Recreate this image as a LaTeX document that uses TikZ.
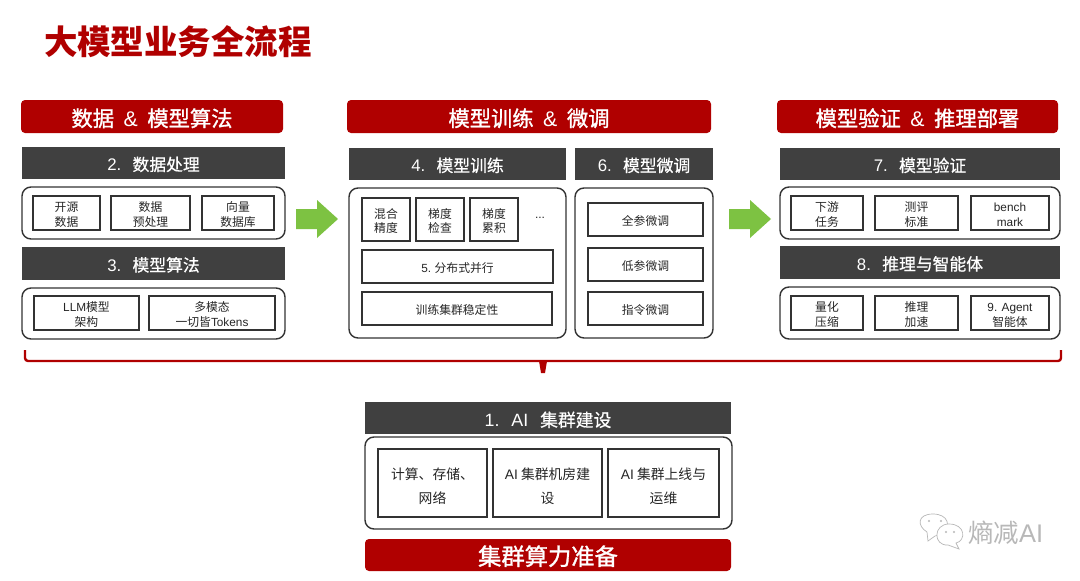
\documentclass[tikz,border=0pt]{standalone}
\usepackage{fontspec}
\setmainfont{Noto Sans CJK SC}
\newfontfamily\latfont{Liberation Sans}
\newfontfamily\medfont[FakeBold=1.3]{Noto Sans CJK SC}
\newfontfamily\semifont[FakeBold=0.6]{Noto Sans CJK SC}
\newcommand{\lat}[1]{{\latfont #1}}
\definecolor{brandred}{HTML}{B00000}
\definecolor{slate}{HTML}{404040}
\definecolor{edge}{HTML}{333333}
\definecolor{arrowgreen}{HTML}{7DC242}
\definecolor{markgray}{HTML}{B8B8B8}
\newcommand{\fs}[2]{\fontsize{#1}{#2}\selectfont}
% Box placed by its corners: style, name, x1, y1, x2, y2, text.
% The text takes no height of its own and sits slightly below the box centre.
\newcommand{\bx}[7]{\node[#1, minimum width={(#5-#3)*1pt}, minimum height={(#6-#4)*1pt}] (#2) at ({(#3+#5)/2},{(#4+#6)/2}) {\raisebox{\dimexpr-.36em-2pt\relax}[0pt][0pt]{\begin{tabular}{@{}c@{}}#7\end{tabular}}};}
% Block arrow pointing right from its left end: x, middle y
\newcommand{\flow}[2]{\fill[flowarrow] (#1,#2-10) -- (#1+21,#2-10) -- (#1+21,#2-19) -- (#1+42,#2) -- (#1+21,#2+19) -- (#1+21,#2+10) -- (#1,#2+10) -- cycle;}
\tikzset{
  base/.style={inner sep=0pt, outer sep=0pt, anchor=center},
  banner/.style={base, rectangle, rounded corners=4pt, fill=brandred, text=white, font=\fs{21.3}{24}\medfont},
  bigbanner/.style={banner, font=\fs{23.3}{26}\medfont},
  bar/.style={base, rectangle, fill=slate, text=white, font=\fs{16.8}{20}\semifont},
  bigbar/.style={bar, font=\fs{17.8}{20}\semifont},
  panel/.style={base, rectangle, rounded corners=9pt, draw=edge, line width=1.4pt, fill=white},
  cell/.style={base, rectangle, draw=edge, line width=1.3pt, fill=white, text=black!85, font=\fs{11.8}{14.5}},
  widecell/.style={cell, font=\fs{13.8}{24}},
  flowarrow/.style={fill=arrowgreen},
  bracketline/.style={draw=brandred, line width=2.4pt, line join=round},
}
\begin{document}
\begin{tikzpicture}[x=1pt,y=-1pt]
\useasboundingbox (0,0) rectangle (1080,581);
\fill[white] (0,0) rectangle (1080,581);

\node[base, anchor=west, text=brandred, font=\fs{33.5}{36}\bfseries] (title) at (44,42) {大模型业务全流程};

% Data and model algorithms column
\bx{banner}{bannerA}{21}{100}{283}{133}{数据\ \ \lat{\&}\ \ 模型算法}
\bx{bar}{barB}{22}{147}{285}{179}{\lat{2.}\ \ \ 数据处理}
\bx{panel}{panelB}{22}{187}{285}{239}{}
\bx{cell}{openData}{33}{196}{100}{230}{开源\\数据}
\bx{cell}{prep}{111}{196}{190}{230}{数据\\预处理}
\bx{cell}{vecDb}{202}{196}{274}{230}{向量\\数据库}
\bx{bar}{barC}{22}{247}{285}{280}{\lat{3.}\ \ \ 模型算法}
\bx{panel}{panelC}{22}{288}{285}{339}{}
\bx{cell}{llm}{34}{296}{139}{330}{\lat{LLM}模型\\架构}
\bx{cell}{multi}{149}{296}{275}{330}{多模态\\一切皆\lat{Tokens}}

% Training and fine-tuning column
\bx{banner}{bannerB}{347}{100}{711}{133}{模型训练\ \ \lat{\&}\ \ 微调}
\bx{bar}{barD}{349}{148}{566}{180}{\lat{4.}\ \ \ 模型训练}
\bx{bar}{barF}{575}{148}{713}{180}{\lat{6.}\ \ \ 模型微调}
\bx{panel}{panelD}{349}{188}{566}{338}{}
\bx{panel}{panelF}{575}{188}{713}{338}{}
\bx{cell}{mixed}{362}{198}{410}{241}{混合\\精度}
\bx{cell}{gradCheck}{416}{198}{464}{241}{梯度\\检查}
\bx{cell}{gradAcc}{470}{198}{518}{241}{梯度\\累积}
\node[base, text=black!85, font=\fs{12}{14}\latfont] (more) at (540,218) {...};
\bx{cell}{dist}{362}{250}{553}{283}{\lat{5.} 分布式并行}
\bx{cell}{stable}{362}{292}{552}{325}{训练集群稳定性}
\bx{cell}{fullTune}{588}{203}{703}{236}{全参微调}
\bx{cell}{lowTune}{588}{248}{703}{281}{低参微调}
\bx{cell}{promptTune}{588}{292}{703}{325}{指令微调}

% Validation and deployment column
\bx{banner}{bannerC}{777}{100}{1058}{133}{模型验证\ \ \lat{\&}\ \ 推理部署}
\bx{bar}{barG}{780}{148}{1060}{180}{\lat{7.}\ \ \ 模型验证}
\bx{panel}{panelG}{780}{187}{1060}{239}{}
\bx{cell}{downstream}{791}{196}{863}{230}{下游\\任务}
\bx{cell}{metric}{875}{196}{958}{230}{测评\\标准}
\bx{cell}{benchmark}{971}{196}{1049}{230}{\lat{bench}\\\lat{mark}}
\bx{bar}{barH}{780}{246}{1060}{279}{\lat{8.}\ \ \ 推理与智能体}
\bx{panel}{panelH}{780}{287}{1060}{339}{}
\bx{cell}{quant}{791}{296}{863}{330}{量化\\压缩}
\bx{cell}{accel}{875}{296}{958}{330}{推理\\加速}
\bx{cell}{agent}{971}{296}{1049}{330}{\lat{9. Agent}\\智能体}

% Flow arrows between columns
\flow{296}{219}
\flow{729}{219}

% Bracket collecting the three columns
\coordinate (brL) at (25,350);
\coordinate (brR) at (1061,350);
\coordinate (brMid) at (543,361);
\draw[bracketline, rounded corners=3pt] (brL) |- (brMid) -| (brR);
\fill[brandred] (539,361) -- (547,361) -- (545,373) -- (541,373) -- cycle;

% Cluster section
\bx{bigbar}{barA}{365}{402}{731}{434}{\lat{1.}\ \ \ \lat{AI}\ \ \ 集群建设}
\bx{panel}{panelA}{365}{437}{732}{529}{}
\bx{widecell}{compute}{378}{449}{487}{517}{计算、存储、\\网络}
\bx{widecell}{room}{493}{449}{602}{517}{\lat{AI} 集群机房建\\设}
\bx{widecell}{ops}{608}{449}{719}{517}{\lat{AI} 集群上线与\\运维}
\bx{bigbanner}{bannerD}{365}{539}{731}{571}{集群算力准备}

% Channel mark in the corner
\begin{scope}[draw=markgray, line width=0.7pt, fill=white]
  \path[draw, fill] (928,541) -- (927,532) .. controls (917,526) and (917,514) .. (933,514) .. controls (948,514) and (952,526) .. (942,534) -- (935,536) -- cycle;
  \path[draw, fill] (948,545) .. controls (933,546) and (933,524) .. (949,524) .. controls (966,524) and (966,541) .. (956,543) -- (959,549) -- cycle;
\end{scope}
\foreach \px/\py in {929/521,941/521,946/532,954/532}
  \fill[markgray] (\px,\py) circle (1.2pt);
\node[base, anchor=west, text=markgray, font=\fs{25.5}{28}] (mark) at (968,533) {熵减\lat{AI}};
\end{tikzpicture}
\end{document}
